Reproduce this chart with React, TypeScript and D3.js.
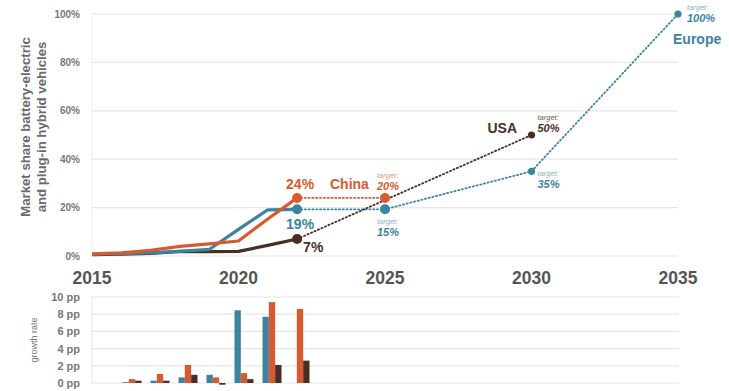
import React from "react";
import * as d3 from "d3";

const years = [2015, 2016, 2017, 2018, 2019, 2020, 2021, 2022];
const europe = [0.8, 1.0, 1.3, 1.9, 2.7, 11.0, 19.1, 19.3];
const china = [0.9, 1.3, 2.3, 4.0, 5.0, 6.2, 15.3, 24.0];
const usa = [0.6, 0.8, 1.1, 1.9, 1.8, 1.9, 4.4, 7.0];

const europeProj = [{ year: 2022, v: 19.3 }, { year: 2025, v: 19.3 }, { year: 2030, v: 35 }, { year: 2035, v: 100 }];
const chinaProj = [{ year: 2022, v: 24 }, { year: 2025, v: 24 }];
const usaProj = [{ year: 2022, v: 7 }, { year: 2030, v: 50 }];

const barYears = [2016, 2017, 2018, 2019, 2020, 2021, 2022];
const europeGrowth = [0.1, 0.27, 0.65, 0.95, 8.45, 7.7, 0];
const chinaGrowth = [0.45, 1.05, 2.1, 0.65, 1.15, 9.4, 8.6];
const usaGrowth = [0.27, 0.27, 0.95, -0.2, 0.45, 2.1, 2.6];

const xTicks = [2015, 2020, 2025, 2030, 2035];
const yTicks = [0, 20, 40, 60, 80, 100];
const barTicks = [0, 2, 4, 6, 8, 10];

const TEAL = "#3a84a0";
const ORANGE = "#d95a2e";
const DARK = "#4a2d24";
const GRID = "#e6e6e6";
const FONT = "'Liberation Sans', Arial, sans-serif";

export default function App() {
  const x = d3.scaleLinear().domain([2015, 2035]).range([92, 678]);
  const y = d3.scaleLinear().domain([0, 100]).range([256, 14]);

  const allBarYears = d3.range(2015, 2036);
  const xb = d3.scaleBand<number>().domain(allBarYears).range([90, 678]);
  const inner = d3.scaleBand<string>().domain(["e", "c", "u"]).range([0, 19]);
  const yb = d3.scaleLinear().domain([0, 10]).range([383, 297]);

  const line = d3.line<number>().x((_, i) => x(years[i])).y((d) => y(d));
  const projLine = d3.line<{ year: number; v: number }>().x((d) => x(d.year)).y((d) => y(d.v));

  const solid = [
    { data: usa, color: DARK },
    { data: europe, color: TEAL },
    { data: china, color: ORANGE },
  ];
  const proj = [
    { data: chinaProj, color: ORANGE },
    { data: europeProj, color: TEAL },
    { data: usaProj, color: DARK },
  ];
  const barSeries = [
    { key: "e", data: europeGrowth, color: TEAL },
    { key: "c", data: chinaGrowth, color: ORANGE },
    { key: "u", data: usaGrowth, color: DARK },
  ];

  const bold = { fontFamily: FONT, fontWeight: 700 } as const;
  const tgt = (cx: number, cy: number, pct: string, color: string, light: string) => (
    <g>
      <text x={cx} y={cy} fontSize={7.5} fontStyle="italic" fill={light} fontFamily={FONT}>target:</text>
      <text x={cx} y={cy + 12} fontSize={11} fontStyle="italic" fill={color} {...bold}>{pct}</text>
    </g>
  );

  return (
    <svg width={729} height={391} style={{ position: "absolute", left: 0, top: 0, background: "#fff" }}>
      {/* main grid */}
      {yTicks.map((t) => (
        <g key={t}>
          <line x1={92} x2={678} y1={y(t)} y2={y(t)} stroke={GRID} strokeWidth={1.2} />
          <text x={80} y={y(t) + 3.5} textAnchor="end" fontSize={10} fill="#777" {...bold}>{t}%</text>
        </g>
      ))}
      <line x1={92} x2={92} y1={y(100)} y2={y(0)} stroke="#eeeeee" strokeWidth={1} />
      {xTicks.map((t) => (
        <text key={t} x={x(t)} y={284} textAnchor="middle" fontSize={17.5} fill="#555" {...bold}>{t}</text>
      ))}
      <g transform="translate(30,127) rotate(-90)">
        <text x={0} y={0} textAnchor="middle" fontSize={13.2} fill="#6a6a6a" {...bold}>Market share battery-electric</text>
        <text x={0} y={16} textAnchor="middle" fontSize={13.2} fill="#6a6a6a" {...bold}>and plug-in hybrid vehicles</text>
      </g>

      {/* projections */}
      {proj.map((p, i) => (
        <path key={i} d={projLine(p.data) || ""} fill="none" stroke={p.color} strokeWidth={1.8} strokeDasharray="1.2,2.6" strokeLinecap="round" />
      ))}
      {/* history lines */}
      {solid.map((s, i) => (
        <path key={i} d={line(s.data) || ""} fill="none" stroke={s.color} strokeWidth={3.2} strokeLinejoin="round" />
      ))}
      {/* dots */}
      <circle cx={x(2022)} cy={y(24)} r={5} fill={ORANGE} />
      <circle cx={x(2022)} cy={y(19.3)} r={5} fill={TEAL} />
      <circle cx={x(2022)} cy={y(7)} r={5} fill={DARK} />
      <circle cx={x(2025)} cy={y(24)} r={5} fill={ORANGE} />
      <circle cx={x(2025)} cy={y(19.3)} r={5} fill={TEAL} />
      <circle cx={x(2030)} cy={y(50)} r={3.6} fill={DARK} />
      <circle cx={x(2030)} cy={y(35)} r={3.6} fill={TEAL} />
      <circle cx={x(2035)} cy={y(100)} r={3.6} fill={TEAL} />

      {/* labels */}
      <text x={x(2022) + 3} y={189} textAnchor="middle" fontSize={14} fill={ORANGE} {...bold}>24%</text>
      <text x={330} y={189} fontSize={14} fill={ORANGE} {...bold}>China</text>
      <text x={x(2022) + 3} y={229} textAnchor="middle" fontSize={14} fill={TEAL} {...bold}>19%</text>
      <text x={x(2022) + 6} y={252} fontSize={14} fill={DARK} {...bold}>7%</text>
      {tgt(x(2025) - 8, 178, "20%", ORANGE, "#e59a7e")}
      {tgt(x(2025) - 8, 224, "15%", TEAL, "#84b3c5")}
      <text x={517} y={133} textAnchor="end" fontSize={14} fill={DARK} {...bold}>USA</text>
      {tgt(x(2030) + 6, 120, "50%", DARK, "#6f5a52")}
      {tgt(x(2030) + 6, 176, "35%", TEAL, "#84b3c5")}
      {tgt(x(2035) + 9, 10, "100%", TEAL, "#84b3c5")}
      <text x={673} y={44} fontSize={14} fill={TEAL} {...bold}>Europe</text>

      {/* bar chart */}
      {barTicks.map((t) => (
        <g key={t}>
          <line x1={92} x2={679} y1={yb(t)} y2={yb(t)} stroke={GRID} strokeWidth={1.2} />
          <text x={80} y={yb(t) + 4} textAnchor="end" fontSize={11} fill="#777" {...bold}>{t} pp</text>
        </g>
      ))}
      <line x1={92} x2={92} y1={yb(10)} y2={yb(0)} stroke={GRID} strokeWidth={1} />
      <text transform="translate(37,340) rotate(-90)" textAnchor="middle" fontSize={9} fill="#777" fontFamily={FONT}>growth rate</text>
      {barSeries.map((s) =>
        s.data.map((v, i) => {
          const bx = (xb(barYears[i]) || 0) + (xb.bandwidth() - 19) / 2 + (inner(s.key) || 0);
          return (
            <rect key={s.key + i} x={bx} width={inner.bandwidth()} y={Math.min(yb(v), yb(0))} height={Math.abs(yb(v) - yb(0))} fill={s.color} />
          );
        })
      )}
    </svg>
  );
}
